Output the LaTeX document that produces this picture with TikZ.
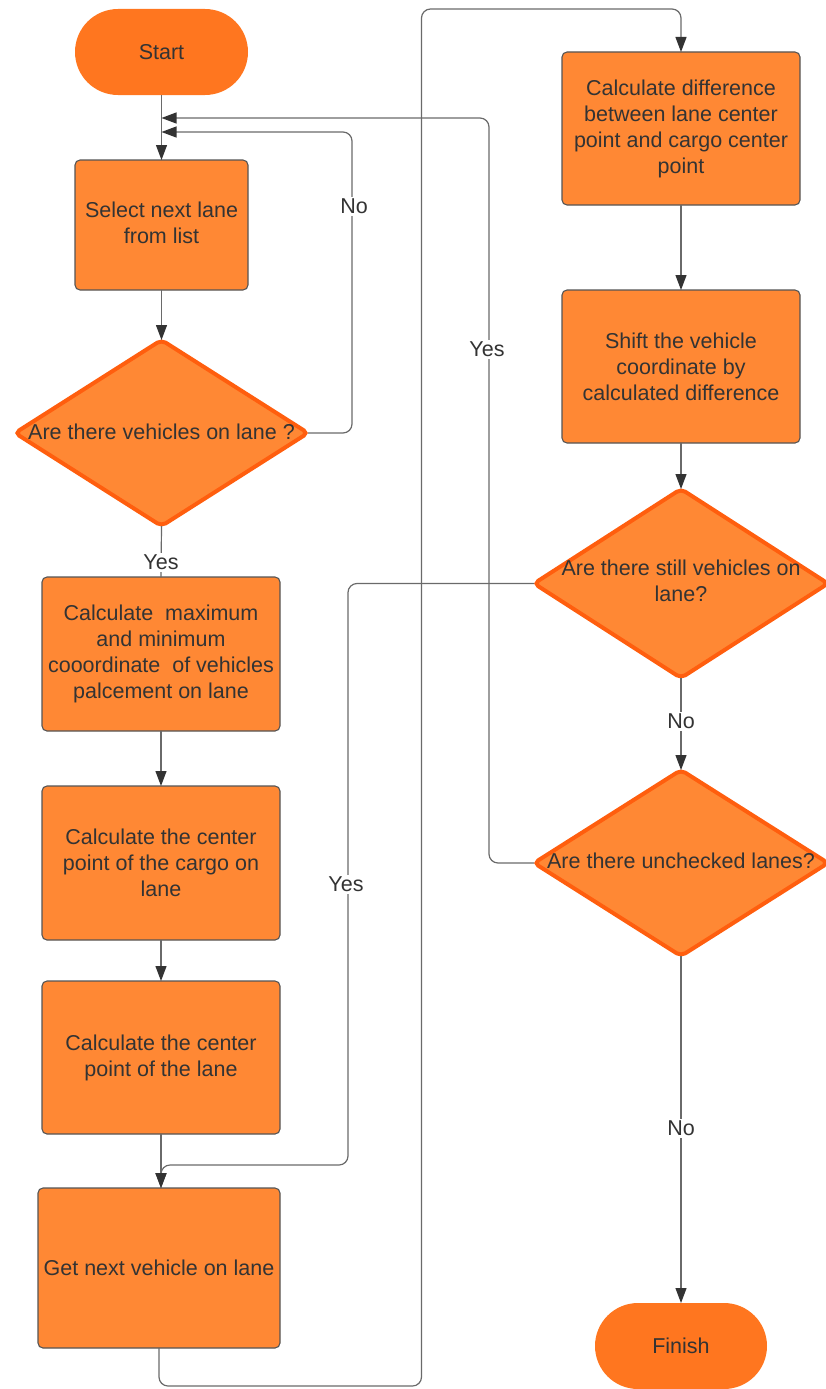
\documentclass[tikz,border=0pt]{standalone}
\usepackage{fontspec}
\setmainfont{Liberation Sans}
\usetikzlibrary{shapes.geometric,shapes.misc,arrows.meta}
\definecolor{boxfill}{HTML}{FF8834}
\definecolor{termfill}{HTML}{FF761F}
\definecolor{decborder}{HTML}{FF5E0E}
\definecolor{txt}{HTML}{333333}
\definecolor{boxline}{HTML}{555555}
\definecolor{linec}{HTML}{6A6A6A}
\definecolor{tipc}{HTML}{333333}

\begin{document}
\begin{tikzpicture}[x=1pt,y=-1pt,
  every node/.style={font=\fontsize{21.5}{26}\selectfont, text=txt, align=center},
  terminal/.style={rounded rectangle, fill=termfill, draw=none, inner sep=0pt, outer sep=0pt,
    minimum width=#1, minimum height=86pt},
  procbox/.style={rectangle, rounded corners=5pt, fill=boxfill, draw=boxline, line width=1.1pt,
    inner sep=0pt, outer sep=0pt},
  decision/.style={diamond, rounded corners=5pt, fill=boxfill, draw=decborder, line width=4pt,
    inner sep=0pt, outer sep=0pt},
  conn/.style={draw=linec, line width=1.2pt, rounded corners=9pt},
  arrowed/.style={conn, -{Triangle[length=15pt, width=11pt, fill=tipc, color=tipc]}},
  lbl/.style={fill=white, inner sep=2pt, text=txt}
]
\useasboundingbox (0,0) rectangle (825,1389);

% left column
\node[terminal=173pt] (start) at (161.5,52) {Start};
\node[procbox, minimum width=173pt, minimum height=130pt] (sel) at (161.5,225) {};
\node at (161.5,223) {Select next lane\\from list};
\node[decision, minimum width=293pt, minimum height=186pt] (d1) at (161.5,433) {};
\node at (161.5,432) {Are there vehicles on lane ?};
\node[procbox, minimum width=238pt, minimum height=154pt] (bmax) at (161,654)
  {Calculate\ \ maximum\\and minimum\\cooordinate\ \ of vehicles\\palcement on lane};
\node[procbox, minimum width=238pt, minimum height=154pt] (cargo) at (161,863)
  {Calculate the center\\point of the cargo on\\lane};
\node[procbox, minimum width=238pt, minimum height=153pt] (lanec) at (161,1057.5)
  {Calculate the center\\point of the lane};
\node[procbox, minimum width=242pt, minimum height=160pt] (getnext) at (159,1268)
  {Get next vehicle on lane};

% right column
\node[procbox, minimum width=238pt, minimum height=153pt] (cdiff) at (681,128.5)
  {Calculate difference\\between lane center\\point and cargo center\\point};
\node[procbox, minimum width=238pt, minimum height=153pt] (shift) at (681,366.5)
  {Shift the vehicle\\coordinate by\\calculated difference};
\node[decision, minimum width=294pt, minimum height=189pt] (d2) at (681,583.5) {};
\node at (681,581) {Are there still vehicles on\\lane?};
\node[decision, minimum width=294pt, minimum height=186pt] (d3) at (681,863) {};
\node at (681,861) {Are there unchecked lanes?};
\node[terminal=172pt] (finish) at (681,1346) {Finish};

% merge points on the entry line of the lane selection
\coordinate (m1) at (161.5,118);
\coordinate (m2) at (161.5,132);
\coordinate (m3) at (161,1165);

% connectors
\draw[arrowed] (start.south) -- (sel.north);
\draw[arrowed] (d3.west) -- ++(-45,0) |- (m1);
\draw[arrowed] (d1.east) -- ++(44,0) |- (m2);
\draw[arrowed] (sel.south) -- (d1.north);
\draw[conn] (d1.south) -- (bmax.north);
\draw[arrowed] (bmax.south) -- (cargo.north);
\draw[arrowed] (cargo.south) -- (lanec.north);
\draw[arrowed] (lanec.south) -- (lanec.south |- getnext.north);
\draw[arrowed] (d2.west) -- ++(-186,0) |- (m3) -- (m3 |- getnext.north);
\draw[arrowed] (getnext.south) -- (159,1386) -- (421.5,1386) -- (421.5,9) -- (681,9) -- (cdiff.north);
\draw[arrowed] (cdiff.south) -- (shift.north);
\draw[arrowed] (shift.south) -- (d2.north);
\draw[arrowed] (d2.south) -- (d3.north);
\draw[arrowed] (d3.south) -- (finish.north);

% branch labels
\node[lbl] (no1) at (354,206) {No};
\node[lbl] (yes1) at (487,349) {Yes};
\node[lbl] (yes2) at (161,562) {Yes};
\node[lbl] (yes3) at (346,884) {Yes};
\node[lbl] (no2) at (681,721) {No};
\node[lbl] (no3) at (681,1128) {No};
\end{tikzpicture}
\end{document}
